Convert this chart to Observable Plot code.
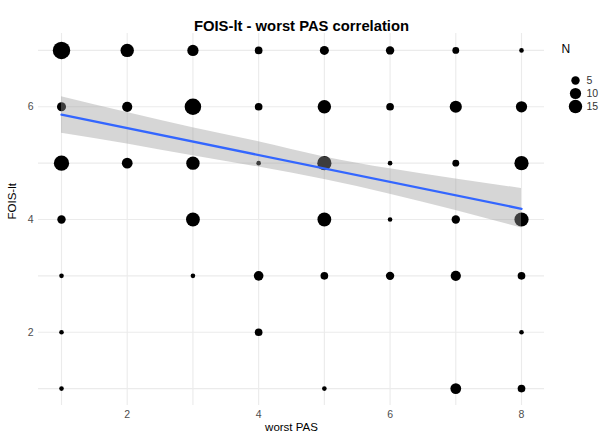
<!DOCTYPE html>
<html>
<head>
<meta charset="utf-8">
<script src="https://cdn.jsdelivr.net/npm/d3@7"></script>
<script src="https://cdn.jsdelivr.net/npm/@observablehq/plot@0.6"></script>
<style>
  html, body { margin: 0; padding: 0; background: #ffffff; }
  #wrap { position: relative; width: 603px; height: 438px; overflow: hidden; background: #ffffff; }
  #legend { position: absolute; left: 555px; top: 35px; }
  #main { position: absolute; left: 0; top: 0; }
</style>
</head>
<body>
<div id="wrap"><div id="main"></div><div id="legend"></div></div>
<script>
// ---- data ----
const pasX   = [1,2,3,4,5,6,7,8, 1,2,3,4,5,6,7,8, 1,2,3,4,5,6,7,8, 1,3,5,6,7,8, 1,3,4,5,6,7,8, 1,4,8, 1,5,7,8];
const foisY  = [7,7,7,7,7,7,7,7, 6,6,6,6,6,6,6,6, 5,5,5,5,5,5,5,5, 4,4,4,4,4,4, 3,3,3,3,3,3,3, 2,2,2, 1,1,1,1];
const countN = [27,15,10,4,6,5,3,1, 6,8,24,4,15,4,12,10, 20,9,15,1,17,1,3,17, 5,16,16,1,5,17, 1,1,7,4,5,8,4, 1,4,1, 1,1,9,4];

// fitted regression line
const fitX = [1, 8];
const fitY = [5.86, 4.19];
// confidence band
const bandX  = [1, 2, 3, 4, 5, 6, 7, 8];
const bandHi = [6.18, 5.90, 5.63, 5.38, 5.11, 4.90, 4.72, 4.55];
const bandLo = [5.53, 5.34, 5.13, 4.93, 4.71, 4.45, 4.16, 3.85];

const gridX = [1, 2, 3, 4, 5, 6, 7, 8];
const gridY = [1, 2, 3, 4, 5, 6, 7];
const xTicks = [2, 4, 6, 8];
const yTicks = [2, 4, 6];
const legendN = [5, 10, 15];

const titleText = "FOIS-lt - worst PAS correlation";
const xTitle = "worst PAS";
const yTitle = "FOIS-lt";
const legendTitle = "N";

const points = pasX.map((x, i) => ({x, y: foisY[i], n: countN[i]}));
const band = bandX.map((x, i) => ({x, lo: bandLo[i], hi: bandHi[i]}));
const fit = fitX.map((x, i) => ({x, y: fitY[i]}));

const rScale = {type: "sqrt", domain: [0, 27], range: [0.78, 8.73]};
const font = "'Liberation Sans', Arial, Helvetica, sans-serif";

const main = Plot.plot({
  width: 603,
  height: 438,
  marginTop: 33,
  marginBottom: 33,
  marginLeft: 38,
  marginRight: 59,
  style: {fontFamily: font, fontSize: "10.5px", color: "#4d4d4d", background: "transparent", overflow: "visible"},
  x: {domain: [0.65, 8.35], label: null},
  y: {domain: [0.7, 7.3], label: null},
  r: rScale,
  marks: [
    Plot.ruleX(gridX, {x: d => d, stroke: "#ebebeb", strokeWidth: 1.1}),
    Plot.ruleY(gridY, {y: d => d, stroke: "#ebebeb", strokeWidth: 1.1}),
    Plot.axisX({ticks: xTicks, tickFormat: d => String(d), tickSize: 0, tickPadding: 5, fill: "#4d4d4d", label: null}),
    Plot.axisY({ticks: yTicks, tickFormat: d => String(d), tickSize: 0, tickPadding: 5, fill: "#4d4d4d", label: null}),
    Plot.dot(points, {x: "x", y: "y", r: "n", fill: "#000000", stroke: null}),
    Plot.areaY(band, {x: "x", y1: "lo", y2: "hi", fill: "#999999", fillOpacity: 0.4, curve: "natural"}),
    Plot.line(fit, {x: "x", y: "y", stroke: "#3366FF", strokeWidth: 2.3}),
    Plot.text([titleText], {frameAnchor: "top", dx: 10, dy: -13, fontSize: 14.8, fontWeight: "bold", fill: "#000000"}),
    Plot.text([xTitle], {frameAnchor: "bottom", dy: 25, fontSize: 11.5, fill: "#000000"}),
    Plot.text([yTitle], {frameAnchor: "left", dx: -26, rotate: -90, fontSize: 11.5, fill: "#000000"})
  ]
});
document.getElementById("main").appendChild(main);

const legend = Plot.plot({
  width: 48,
  height: 95,
  margin: 0,
  style: {fontFamily: font, fontSize: "10.5px", color: "#333333", background: "transparent", overflow: "visible"},
  x: {domain: [0, 1], range: [20, 40], axis: null},
  y: {type: "point", domain: legendN, range: [37, 78], axis: null},
  r: rScale,
  marks: [
    Plot.text([legendTitle], {frameAnchor: "top-left", dx: 6, dy: 9, fontSize: 12, fill: "#000000", textAnchor: "start"}),
    Plot.dot(legendN, {x: () => 0, y: d => d, r: d => d, fill: "#000000", stroke: null}),
    Plot.text(legendN, {x: () => 0, y: d => d, text: d => String(d), dx: 11, textAnchor: "start", fill: "#333333", fontSize: 10.5})
  ]
});
document.getElementById("legend").appendChild(legend);
</script>
</body>
</html>
